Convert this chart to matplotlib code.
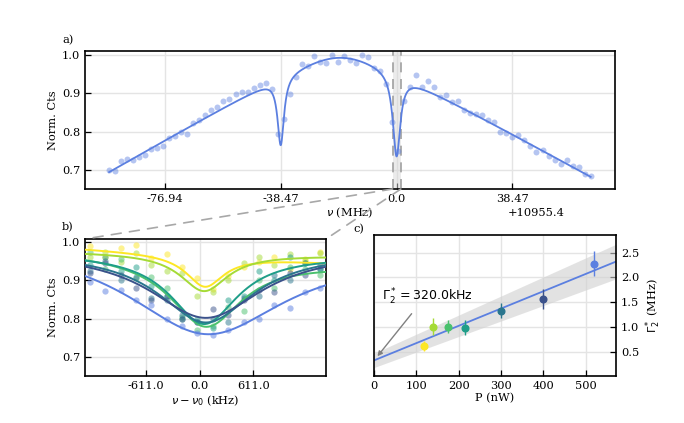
import numpy as np
import matplotlib
matplotlib.use('Agg')
import matplotlib.pyplot as plt
from matplotlib.patches import ConnectionPatch

plt.rcParams['font.family'] = 'DejaVu Serif'
plt.rcParams['font.size'] = 8.2
plt.rcParams['mathtext.fontset'] = 'dejavusans'
plt.rcParams['xtick.direction'] = 'in'
plt.rcParams['ytick.direction'] = 'in'
plt.rcParams['axes.linewidth'] = 1.2
plt.rcParams['axes.unicode_minus'] = False

# ---- a) wide scan (MHz relative to 10955.4 MHz) ----
NU_OFFSET = '+10955.4'
scan_nu = np.arange(-95.5, 65.0, 2.0)
scan_cts = [0.699, 0.697, 0.722, 0.728, 0.725, 0.734, 0.738, 0.754, 0.757, 0.763,
            0.783, 0.788, 0.800, 0.793, 0.822, 0.829, 0.843, 0.856, 0.864, 0.880,
            0.885, 0.899, 0.904, 0.904, 0.913, 0.922, 0.928, 0.912, 0.794, 0.832,
            0.898, 0.943, 0.976, 0.971, 0.997, 0.982, 0.979, 1.000, 0.981, 0.998,
            0.987, 0.980, 1.001, 0.994, 0.965, 0.959, 0.925, 0.825, 0.748, 0.881,
            0.917, 0.948, 0.917, 0.932, 0.916, 0.889, 0.895, 0.878, 0.880, 0.856,
            0.849, 0.846, 0.843, 0.829, 0.825, 0.800, 0.796, 0.785, 0.791, 0.777,
            0.763, 0.747, 0.752, 0.736, 0.727, 0.716, 0.726, 0.711, 0.708, 0.689,
            0.685]
a_ticks = [-76.94, -38.47, 0.0, 38.47]
a_ticklabels = ['-76.94', '-38.47', '0.0', '38.47']

# fit result: soft triangular envelope with two lorentzian dips
env_top, env_c, env_w, env_s, env_skew = 1.043, -18.75, 11.0, 0.0044, 0.0001
dip_nu = [-38.47, 0.0]
dip_depth = [0.177, 0.214]
dip_hwhm = [1.3, 1.5]

# zoom window shown in b) (MHz)
zoom_lo, zoom_hi = -1.305, 1.438

# ---- b) narrow scans at several powers (kHz relative to nu0) ----
b_nu = [-1250, -1075, -900, -725, -550, -375, -200, -25,
        150, 325, 500, 675, 850, 1025, 1200, 1375]
b_cts = [
    [0.990, 0.962, 0.985, 0.992, 0.958, 0.968, 0.935, 0.905,
     0.878, 0.912, 0.935, 0.948, 0.962, 0.930, 0.955, 0.975],
    [0.960, 0.975, 0.948, 0.972, 0.940, 0.925, 0.920, 0.860,
     0.870, 0.900, 0.945, 0.962, 0.940, 0.968, 0.950, 0.972],
    [0.975, 0.930, 0.955, 0.905, 0.910, 0.880, 0.805, 0.770,
     0.780, 0.830, 0.820, 0.900, 0.880, 0.935, 0.930, 0.915],
    [0.940, 0.960, 0.925, 0.935, 0.885, 0.860, 0.800, 0.800,
     0.775, 0.850, 0.860, 0.925, 0.900, 0.960, 0.945, 0.930],
    [0.925, 0.950, 0.900, 0.910, 0.855, 0.850, 0.810, 0.790,
     0.800, 0.790, 0.855, 0.860, 0.915, 0.900, 0.945, 0.930],
    [0.920, 0.945, 0.915, 0.880, 0.850, 0.860, 0.800, 0.790,
     0.825, 0.810, 0.850, 0.875, 0.870, 0.920, 0.915, 0.940],
    [0.895, 0.872, 0.875, 0.850, 0.836, 0.800, 0.781, 0.763,
     0.757, 0.770, 0.790, 0.800, 0.835, 0.827, 0.870, 0.880],
]
# lorentzian fits: baseline, slope (1/kHz), depth, hwhm (kHz), centre (kHz)
b_base = [0.966, 0.970, 0.9595, 0.968, 0.975, 0.979, 0.990]
b_slope = [-1.31e-5, -3.5e-6, -1.12e-5, -2.3e-6, 0.0, 0.0, -8e-6]
b_depth = [0.082, 0.098, 0.180, 0.182, 0.185, 0.177, 0.230]
b_hwhm = [260, 330, 500, 470, 660, 780, 1100]
b_center = [60, 50, 70, 50, 70, 70, 80]
b_ticks = [-611.0, 0.0, 611.0]
b_ticklabels = ['-611.0', '0.0', '611.0']

# ---- c) linewidth vs power ----
power = [117, 140, 175, 214, 300, 400, 520]
gamma = [0.61, 1.00, 1.00, 0.98, 1.33, 1.57, 2.28]
gamma_err = [0.10, 0.17, 0.13, 0.15, 0.16, 0.20, 0.25]
fit_a, fit_b = 0.32, 0.0035
fit_da, fit_db = 0.145, 0.00036

colors = ['#fde725', '#a5db36', '#4ac16d', '#1f9e89', '#2a768e', '#3b528b', '#5b7fe0']
BLUE = '#5b7fe0'
GRID = '#e4e4e4'


def lorentz(x, c, g):
    return 1.0 / (1.0 + ((x - c) / g) ** 2)


def style(ax):
    ax.grid(True, color=GRID, lw=1.0, zorder=0)
    ax.set_axisbelow(True)
    ax.tick_params(length=4, width=0.9)


fig = plt.figure(figsize=(6.84, 4.23), dpi=100)
ax_a = fig.add_axes([0.1243, 0.5532, 0.7749, 0.3269])
ax_b = fig.add_axes([0.1243, 0.1118, 0.3523, 0.3232])
ax_c = fig.add_axes([0.5468, 0.1118, 0.3538, 0.3326])

# a)
xf = np.linspace(scan_nu[0], scan_nu[-1], 3000)
env = env_top - env_s * np.sqrt((xf - env_c) ** 2 + env_w ** 2) + env_skew * (xf - env_c)
for c, d, g in zip(dip_nu, dip_depth, dip_hwhm):
    env = env - d * lorentz(xf, c, g)
ax_a.plot(scan_nu, scan_cts, 'o', color=BLUE, alpha=0.45, ms=4.3, mec='none', zorder=3)
ax_a.plot(xf, env, color=BLUE, lw=1.3, zorder=4)
ax_a.axvspan(zoom_lo, zoom_hi, color='#d8d8d8', alpha=0.5, lw=0, zorder=1)
for xv in (zoom_lo, zoom_hi):
    ax_a.axvline(xv, color='#a0a0a0', lw=1.2, ls=(0, (6, 4)), zorder=2)
ax_a.set_xlim(-103.5, 72.6)
ax_a.set_ylim(0.65, 1.011)
ax_a.set_xticks(a_ticks)
ax_a.set_xticklabels(a_ticklabels)
ax_a.set_yticks([0.7, 0.8, 0.9, 1.0])
ax_a.set_ylabel('Norm. Cts', labelpad=3)
ax_a.set_xlabel(r'$\nu$ (MHz)', labelpad=1.5)
ax_a.text(0.904, -0.174, NU_OFFSET, transform=ax_a.transAxes, ha='right', va='center')
style(ax_a)

# b)
xb = np.linspace(-1400, 1500, 800)
for i in range(len(b_cts)):
    ax_b.plot(b_nu, b_cts[i], 'o', color=colors[i], alpha=0.5, ms=4.5, mec='none', zorder=3)
for i in range(len(b_cts)):
    yb = b_base[i] + b_slope[i] * xb - b_depth[i] * lorentz(xb, b_center[i], b_hwhm[i])
    ax_b.plot(xb, yb, color=colors[i], lw=1.4, zorder=4)
ax_b.set_xlim(zoom_lo * 1000, zoom_hi * 1000)
ax_b.set_ylim(0.651, 1.008)
ax_b.set_xticks(b_ticks)
ax_b.set_xticklabels(b_ticklabels)
ax_b.set_yticks([0.7, 0.8, 0.9, 1.0])
ax_b.set_ylabel('Norm. Cts', labelpad=3)
ax_b.set_xlabel(r'$\nu - \nu_0$ (kHz)', labelpad=2)
style(ax_b)

# c)
xc = np.linspace(0, 572, 200)
ax_c.fill_between(xc, (fit_a - fit_da) + (fit_b - fit_db) * xc,
                  (fit_a + fit_da) + (fit_b + fit_db) * xc,
                  color='#d0d0d0', alpha=0.6, lw=0, zorder=1)
ax_c.plot(xc, fit_a + fit_b * xc, color=BLUE, lw=1.3, zorder=2)
for p, g, e, col in zip(power, gamma, gamma_err, colors):
    ax_c.errorbar(p, g, yerr=e, fmt='o', color=col, ms=4.8, elinewidth=1.0,
                  capsize=0, zorder=3)
ax_c.text(20, 1.6, r'$\Gamma_2^* = 320.0$kHz', family='DejaVu Sans',
          fontsize=9, va='center', ha='left')
ax_c.annotate('', xy=(4, 0.36), xytext=(93, 1.31),
              arrowprops=dict(arrowstyle='-|>', color='#808080', lw=1.0,
                              mutation_scale=7))
ax_c.set_xlim(0, 572)
ax_c.set_ylim(0.01, 2.86)
ax_c.set_xticks([0, 100, 200, 300, 400, 500])
ax_c.set_yticks([0.5, 1.0, 1.5, 2.0, 2.5])
ax_c.yaxis.tick_right()
ax_c.yaxis.set_label_position('right')
ax_c.set_ylabel(r'$\Gamma_2^*$ (MHz)', labelpad=3)
ax_c.set_xlabel('P (nW)', labelpad=2)
style(ax_c)

# zoom connectors between a) and b)
for xa, xbb in ((zoom_lo, 0.0), (zoom_hi, 1.0)):
    con = ConnectionPatch(xyA=(xa, 0.0), coordsA=ax_a.get_xaxis_transform(),
                          xyB=(xbb, 1.0), coordsB=ax_b.transAxes,
                          color='#a8a8a8', lw=1.2, ls=(0, (6, 5)))
    fig.add_artist(con)

fig.text(62 / 684, 1 - 40 / 423, 'a)', ha='left', va='center')
fig.text(62 / 684, 1 - 227 / 423, 'b)', ha='left', va='center')
fig.text(353 / 684, 1 - 229 / 423, 'c)', ha='left', va='center')

fig.savefig('out.png', dpi=100)
